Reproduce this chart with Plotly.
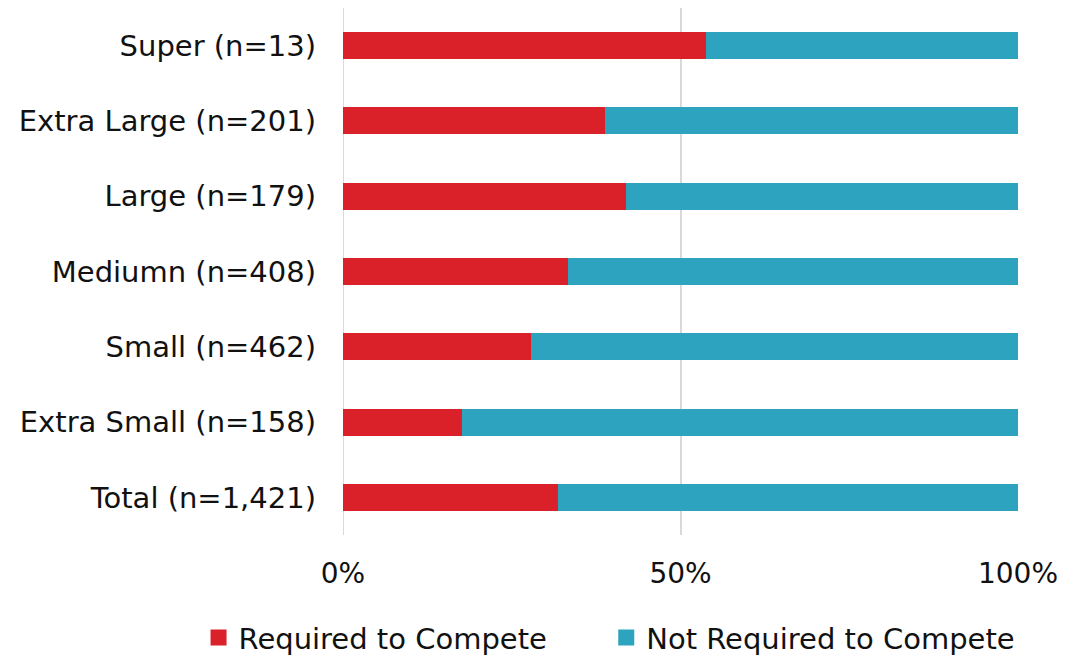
import plotly.graph_objects as go

# Company size groups, top to bottom as shown
categories = [
    "Super (n=13)",
    "Extra Large (n=201)",
    "Large (n=179)",
    "Mediumn (n=408)",
    "Small (n=462)",
    "Extra Small (n=158)",
    "Total (n=1,421)",
]
required = [53.8, 38.8, 41.9, 33.3, 27.9, 17.7, 31.9]
not_required = [100 - v for v in required]

series_names = ["Required to Compete", "Not Required to Compete"]

tick_vals = [0, 50, 100]
tick_text = ["0%", "50%", "100%"]

RED = "#DA2029"
BLUE = "#2DA3BF"
FONT = "Verdana, DejaVu Sans, sans-serif"

fig = go.Figure()
series = [
    (required, series_names[0], RED, "legend"),
    (not_required, series_names[1], BLUE, "legend2"),
]
for vals, name, color, leg in series:
    fig.add_trace(go.Bar(
        y=categories, x=vals, orientation="h", name=name,
        marker=dict(color=color, line=dict(width=0)),
        showlegend=False, legendgroup=name,
    ))
    # legend key: square swatch
    fig.add_trace(go.Scatter(
        x=[None], y=[None], mode="markers", name=name, legendgroup=name,
        legend=leg, marker=dict(symbol="square", size=16, color=color),
    ))

legend_common = dict(
    orientation="h", xanchor="left", yanchor="middle", y=-0.195,
    font=dict(size=29), itemwidth=30, itemsizing="trace",
    bgcolor="rgba(0,0,0,0)",
)

fig.update_layout(
    width=1066, height=658,
    barmode="stack", bargap=0.64,
    plot_bgcolor="white", paper_bgcolor="white",
    margin=dict(l=343, r=48, t=8, b=123, autoexpand=False),
    font=dict(family=FONT, size=28, color="#111111"),
    showlegend=True,
    legend=dict(x=-0.214, **legend_common),
    legend2=dict(x=0.39, **legend_common),
    xaxis=dict(
        range=[0, 100], tickvals=tick_vals, ticktext=tick_text,
        showgrid=True, gridcolor="#d9d9d9", gridwidth=2,
        zeroline=False, showline=False, ticks="", ticklabelstandoff=19,
        tickfont=dict(size=28), fixedrange=True,
    ),
    yaxis=dict(
        categoryorder="array", categoryarray=categories[::-1],
        showgrid=False, zeroline=False, showline=False, ticks="",
        ticklabelstandoff=26, tickfont=dict(size=29),
    ),
)

# Left edge of the value axis
fig.add_shape(type="line", xref="x", yref="paper", x0=0, x1=0, y0=0, y1=1,
              line=dict(color="#d9d9d9", width=2), layer="below")

fig.write_html("out.html")
